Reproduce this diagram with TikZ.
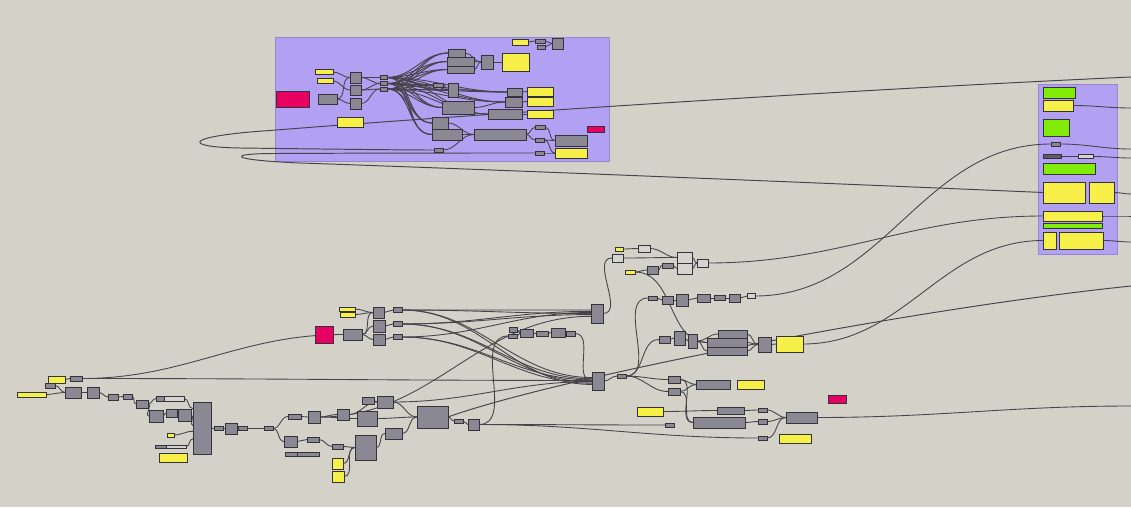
\documentclass[tikz,border=0pt]{standalone}
\usepackage{xcolor}
\usepackage{tikz}
\usetikzlibrary{backgrounds}

\definecolor{canvas}{RGB}{212,209,201}
\definecolor{grouplilac}{RGB}{178,160,242}
\definecolor{compgray}{RGB}{138,136,146}
\definecolor{compedge}{RGB}{52,50,58}
\definecolor{paramlight}{RGB}{214,212,208}
\definecolor{panelyellow}{RGB}{246,240,72}
\definecolor{togglegreen}{RGB}{128,236,8}
\definecolor{swatchpink}{RGB}{232,0,98}
\definecolor{wiregray}{RGB}{70,68,74}

\begin{document}
\begin{tikzpicture}[
    x=0.02cm,
    y=-0.02cm,
    wh/.style 2 args={
        minimum width=#1*0.02cm,
        minimum height=#2*0.02cm
    },
    comp/.style={
        rectangle,
        draw=compedge,
        line width=0.5pt,
        fill=compgray,
        inner sep=0pt,
        outer sep=0pt
    },
    light/.style={comp, fill=paramlight},
    panel/.style={comp, fill=panelyellow},
    toggle/.style={comp, fill=togglegreen},
    swatch/.style={comp, fill=swatchpink},
    group/.style={
        rectangle,
        fill=grouplilac,
        draw=grouplilac!85!black,
        line width=0.4pt,
        inner sep=0pt
    },
    wire/.style={
        draw=wiregray,
        line width=0.5pt,
        out=0,
        in=180
    },
    longwire/.style={
        draw=wiregray,
        line width=0.55pt
    }
]
    \useasboundingbox (0,0) rectangle (1131,507);

    \begin{scope}[on background layer]
        \fill[canvas] (0,0) rectangle (1131,507);
        \node[group, wh={334}{124}] (grpA) at (442,99) {};
        \node[group, wh={79}{170}] (grpB) at (1077.5,169) {};
    \end{scope}

    % group A
    \node[swatch, wh={33}{16}] (aPink) at (292.5,99) {};
    \node[panel, wh={18}{5}] (aY1) at (324,72) {};
    \node[panel, wh={16}{5}] (aY2) at (325,81) {};
    \node[comp, wh={19}{10}] (aG1) at (327.5,99) {};
    \node[comp, wh={11}{11}] (aC1) at (355.5,77.5) {};
    \node[comp, wh={11}{10}] (aC2) at (355.5,90) {};
    \node[comp, wh={11}{11}] (aC3) at (355.5,103.5) {};
    \node[comp, wh={7}{4}] (aS1) at (383.5,77.5) {};
    \node[comp, wh={7}{4}] (aS2) at (383.5,83.5) {};
    \node[comp, wh={7}{4}] (aS3) at (383.5,89) {};
    \node[comp, wh={17}{8}] (aT1) at (456.5,53) {};
    \node[comp, wh={27}{9}] (aT2) at (460.5,61.5) {};
    \node[comp, wh={27}{7}] (aT3) at (460.5,69.5) {};
    \node[comp, wh={12}{14}] (aT4) at (487,62) {};
    \node[panel, wh={27}{18}] (aYbig) at (515.5,62) {};
    \node[panel, wh={16}{6}] (aYtop) at (520,42) {};
    \node[comp, wh={10}{4}] (aSm1) at (540,41) {};
    \node[comp, wh={8}{4}] (aSm2) at (541,47) {};
    \node[comp, wh={11}{11}] (aSq) at (557.5,43.5) {};
    \node[comp, wh={10}{4}] (aM1) at (438,85) {};
    \node[comp, wh={10}{14}] (aM2) at (453,90) {};
    \node[comp, wh={32}{13}] (aM3) at (458,107.5) {};
    \node[comp, wh={15}{8}] (aR1) at (514.5,92) {};
    \node[comp, wh={17}{10}] (aR2) at (513.5,102) {};
    \node[comp, wh={34}{10}] (aR3) at (505,114) {};
    \node[panel, wh={26}{9}] (aY3) at (540,91.5) {};
    \node[panel, wh={26}{9}] (aY4) at (540,101.5) {};
    \node[panel, wh={26}{8}] (aY5) at (540,114) {};
    \node[panel, wh={26}{10}] (aY6) at (350,122) {};
    \node[comp, wh={16}{12}] (aB1) at (440,123) {};
    \node[comp, wh={30}{11}] (aB2) at (447,134.5) {};
    \node[comp, wh={52}{11}] (aB3) at (500,134.5) {};
    \node[comp, wh={10}{4}] (aN1) at (540,127.5) {};
    \node[comp, wh={9}{4}] (aN2) at (539.5,140) {};
    \node[comp, wh={9}{4}] (aN3) at (539.5,153) {};
    \node[comp, wh={9}{4}] (aN4) at (438.5,150) {};
    \node[comp, wh={32}{11}] (aG2) at (571,140.5) {};
    \node[panel, wh={32}{10}] (aY7) at (571,153) {};
    \node[swatch, wh={17}{6}] (aPinkS) at (595.5,129) {};

    % group B
    \node[toggle, wh={32}{11}] (bG1) at (1059,92.5) {};
    \node[panel, wh={30}{11}] (bY1) at (1058,105.5) {};
    \node[toggle, wh={26}{17}] (bG2) at (1056,127.5) {};
    \node[comp, wh={9}{4}] (bS1) at (1055.5,144) {};
    \node[comp, fill=compedge!80, wh={18}{4}] (bSlA) at (1052,156.5) {};
    \node[light, wh={15}{4}] (bSlB) at (1085.5,156.5) {};
    \node[toggle, wh={52}{11}] (bG3) at (1069,168.5) {};
    \node[panel, wh={42}{21}] (bY2) at (1064,192.5) {};
    \node[panel, wh={25}{21}] (bY3) at (1101.5,192.5) {};
    \node[panel, wh={59}{10}] (bY4) at (1072.5,216) {};
    \node[toggle, wh={59}{5}] (bG4) at (1072.5,225.5) {};
    \node[panel, wh={13}{17}] (bY5) at (1049.5,240.5) {};
    \node[panel, wh={44}{17}] (bY6) at (1081,240.5) {};

    % upper right cluster
    \node[panel, wh={8}{4}] (cY1) at (619,249) {};
    \node[light, wh={12}{7}] (cL1) at (644,248.5) {};
    \node[light, wh={11}{8}] (cL2) at (617.5,258) {};
    \node[light, wh={15}{11}] (cL3) at (684.5,257.5) {};
    \node[light, wh={15}{11}] (cL4) at (684.5,268.5) {};
    \node[light, wh={11}{8}] (cL5) at (702.5,263) {};
    \node[panel, wh={10}{4}] (cY2) at (630,272) {};
    \node[comp, wh={11}{8}] (cG1) at (652.5,270) {};
    \node[comp, wh={11}{5}] (cG2) at (667.5,265.5) {};
    \node[comp, wh={9}{4}] (cR1) at (652.5,298) {};
    \node[comp, wh={11}{8}] (cR2) at (667.5,300) {};
    \node[comp, wh={12}{12}] (cR3) at (682,300) {};
    \node[comp, wh={13}{8}] (cR4) at (703.5,298) {};
    \node[comp, wh={11}{5}] (cR5) at (719.5,298) {};
    \node[comp, wh={11}{8}] (cR6) at (734.5,298) {};
    \node[light, wh={8}{5}] (cR7) at (751,296) {};
    \node[comp, wh={11}{7}] (cH1) at (664.5,339.5) {};
    \node[comp, wh={11}{14}] (cH2) at (679.5,338) {};
    \node[comp, wh={9}{14}] (cH3) at (692.5,341) {};
    \node[comp, wh={29}{8}] (cK1) at (732.5,334) {};
    \node[comp, wh={40}{9}] (cK2) at (727,342.5) {};
    \node[comp, wh={40}{8}] (cK3) at (727,351) {};
    \node[comp, wh={13}{15}] (cH4) at (764.5,344.5) {};
    \node[panel, wh={27}{16}] (cY3) at (789.5,344) {};

    % middle cluster
    \node[panel, wh={16}{4}] (mY1) at (347,309) {};
    \node[panel, wh={15}{5}] (mY2) at (347.5,314.5) {};
    \node[swatch, wh={18}{17}] (mPink) at (324,334.5) {};
    \node[comp, wh={19}{11}] (mG1) at (352.5,334.5) {};
    \node[comp, wh={11}{11}] (mC1) at (378.5,312.5) {};
    \node[comp, wh={12}{12}] (mC2) at (379,326) {};
    \node[comp, wh={12}{11}] (mC3) at (379,339.5) {};
    \node[comp, wh={9}{5}] (mS1) at (397.5,310) {};
    \node[comp, wh={9}{5}] (mS2) at (397.5,324) {};
    \node[comp, wh={9}{5}] (mS3) at (397.5,337) {};
    \node[comp, wh={12}{19}] (mBoxU) at (597,313.5) {};
    \node[comp, wh={12}{18}] (mBoxL) at (598,381) {};
    \node[comp, wh={8}{5}] (mT1) at (513.5,330) {};
    \node[comp, wh={9}{4}] (mT2) at (512.5,336) {};
    \node[comp, wh={13}{8}] (mT3) at (526.5,333) {};
    \node[comp, wh={12}{5}] (mT4) at (542,333.5) {};
    \node[comp, wh={14}{9}] (mT5) at (558,332.5) {};
    \node[comp, wh={9}{5}] (mT6) at (570.5,333.5) {};
    \node[comp, wh={9}{4}] (mQ) at (621.5,376) {};

    % lower right cluster
    \node[comp, wh={12}{7}] (rG1) at (674,379.5) {};
    \node[comp, wh={12}{7}] (rG2) at (674,391.5) {};
    \node[comp, wh={34}{9}] (rG3) at (713,384.5) {};
    \node[panel, wh={27}{9}] (rY1) at (750.5,384.5) {};
    \node[swatch, wh={18}{8}] (rPink) at (837,399) {};
    \node[panel, wh={26}{9}] (rY2) at (650,411.5) {};
    \node[comp, wh={27}{7}] (rG4) at (730.5,410.5) {};
    \node[comp, wh={9}{4}] (rN1) at (762.5,410) {};
    \node[comp, wh={52}{11}] (rG5) at (719,422.5) {};
    \node[comp, wh={9}{5}] (rN2) at (762.5,421.5) {};
    \node[comp, wh={9}{4}] (rN3) at (669.5,425) {};
    \node[comp, wh={31}{11}] (rG6) at (801.5,417.5) {};
    \node[comp, wh={9}{4}] (rN4) at (762.5,438) {};
    \node[panel, wh={32}{9}] (rY3) at (795,438.5) {};

    % lower left cluster
    \node[panel, wh={17}{7}] (lY1) at (56.5,379.5) {};
    \node[comp, wh={12}{5}] (lS1) at (76,378.5) {};
    \node[comp, wh={10}{5}] (lS2) at (50,385.5) {};
    \node[panel, wh={29}{5}] (lY2) at (31.5,394.5) {};
    \node[comp, wh={16}{11}] (lG1) at (73,392.5) {};
    \node[comp, wh={12}{11}] (lG2) at (93,392.5) {};
    \node[comp, wh={10}{6}] (lS3) at (113,397) {};
    \node[comp, wh={9}{5}] (lS4) at (127.5,396.5) {};
    \node[comp, wh={12}{8}] (lG3) at (142,404) {};
    \node[comp, wh={8}{5}] (lBarA) at (160,398.5) {};
    \node[light, wh={20}{5}] (lBarB) at (174,398.5) {};
    \node[comp, wh={14}{12}] (lG4) at (156,416) {};
    \node[comp, wh={11}{8}] (lG5) at (171.5,413) {};
    \node[comp, wh={13}{12}] (lG6) at (184.5,415) {};
    \node[comp, wh={18}{52}] (lTall) at (202,428) {};
    \node[panel, wh={7}{4}] (lY3) at (170.5,435) {};
    \node[comp, wh={11}{3}] (lBarC) at (160.5,446.5) {};
    \node[light, wh={20}{3}] (lBarD) at (176,446.5) {};
    \node[panel, wh={28}{9}] (lY4) at (173,457.5) {};
    \node[comp, wh={9}{4}] (lS5) at (218.5,428.5) {};
    \node[comp, wh={12}{11}] (lG7) at (231,428.5) {};
    \node[comp, wh={9}{4}] (lS6) at (242.5,428.5) {};
    \node[comp, wh={9}{4}] (lS7) at (268.5,428.5) {};

    % lower middle cluster
    \node[comp, wh={13}{5}] (dS1) at (294.5,416.5) {};
    \node[comp, wh={12}{12}] (dG1) at (314,417) {};
    \node[comp, wh={12}{11}] (dG2) at (343,414.5) {};
    \node[comp, wh={12}{7}] (dG3) at (368,400.5) {};
    \node[comp, wh={16}{12}] (dG4) at (385,402) {};
    \node[comp, wh={20}{15}] (dG5) at (367,418.5) {};
    \node[comp, wh={31}{22}] (dBig) at (432.5,417) {};
    \node[comp, wh={9}{4}] (dS2) at (458.5,421) {};
    \node[comp, wh={11}{11}] (dG6) at (473.5,424.5) {};
    \node[comp, wh={17}{11}] (dG7) at (393.5,433.5) {};
    \node[comp, wh={13}{11}] (dG8) at (290.5,441.5) {};
    \node[comp, wh={12}{5}] (dS3) at (313,439.5) {};
    \node[comp, wh={11}{5}] (dS4) at (337.5,446.5) {};
    \node[comp, wh={12}{4}] (dBarA) at (291,454) {};
    \node[comp, wh={22}{4}] (dBarB) at (308,454) {};
    \node[comp, wh={21}{25}] (dG9) at (365.5,447.5) {};
    \node[panel, wh={11}{11}] (dY1) at (337.5,463.5) {};
    \node[panel, wh={12}{11}] (dY2) at (338,476.5) {};

    \coordinate (offA) at (1131,77);
    \coordinate (offB1) at (1131,108);
    \coordinate (offB2) at (1131,149);
    \coordinate (offB3) at (1131,158);
    \coordinate (offB4) at (1131,194);
    \coordinate (offB5) at (1131,216);
    \coordinate (offB6) at (1131,242);
    \coordinate (offC) at (1131,286);
    \coordinate (offD) at (1131,406);

    \begin{scope}[on background layer]
        % group A wiring
        \foreach \s/\t in {aY1/aC1, aY2/aC2, aG1/aC1, aG1/aC3, aC1/aS1, aC2/aS2,
            aC3/aS3, aC1/aS2, aC2/aS3, aT1/aT4, aT2/aT4, aT3/aT4, aT4/aYbig,
            aYtop/aSm1, aSm1/aSq, aSm2/aSq, aM1/aM2, aM2/aR1, aM3/aR2,
            aR1/aY3, aR2/aY4, aR3/aY5, aB1/aB3, aB2/aB3, aB3/aN1, aB3/aN2,
            aN1/aG2, aN2/aG2, aN2/aY7, aN3/aY7, aN4/aB3}
            \draw[wire] (\s.east) to (\t.west);
        \foreach \s in {aS1,aS2,aS3}
            \foreach \t in {aT1,aT2,aT3,aM1,aM2,aM3,aR1,aR2,aR3,aB1,aB2}
                \draw[wire] (\s.east) to (\t.west);

        % group B outputs
        \draw[longwire] (bSlA.east) -- (bSlB.west);
        \foreach \s/\t in {bY1/offB1, bS1/offB2, bSlB/offB3, bY3/offB4,
            bY4/offB5, bY6/offB6}
            \draw[wire] (\s.east) to (\t);

        % backward loops
        \draw[longwire] (offA) .. controls (800,92) and (400,120) .. (270,130.5)
            .. controls (185,136) and (180,147) .. (240,148)
            .. controls (320,149) and (400,150) .. (aN4.west);
        \draw[longwire] (bY2.west) .. controls (800,182) and (450,168) .. (300,163)
            .. controls (228,160) and (225,153.5) .. (275,153.5)
            .. controls (380,153) and (470,153) .. (aN3.west);

        % lower left
        \foreach \s/\t in {lY1/lS1, lY2/lG1, lS2/lG1, lG1/lG2, lG2/lS3, lS3/lS4,
            lS4/lG3, lG3/lBarA, lG3/lG4, lG4/lG5, lG5/lG6, lTall/lS5, lS5/lG7,
            lG7/lS6, lS6/lS7, lS7/dS1, lS7/dG8, dS1/dG1, dG1/dG2, dG1/dG5,
            dG2/dG4, dG3/dG4, dG4/dBig, dG5/dBig, dG7/dBig, dG8/dS3, dS3/dS4,
            dS4/dG9, dY1/dG9, dY2/dG9, dG9/dG7, dBig/dS2, dS2/dG6}
            \draw[wire] (\s.east) to (\t.west);
        \draw[wire] (lBarB.east) to (lTall.115);
        \draw[wire] (lG6.east) to (lTall.165);
        \draw[wire] (lY3.east) to (lTall.200);
        \draw[wire] (lBarD.east) to (lTall.230);

        % middle
        \foreach \s/\t in {mPink/mG1, mY1/mC1, mY2/mC1, mG1/mC1, mG1/mC2,
            mG1/mC3, mC1/mS1, mC2/mS2, mC3/mS3, mT1/mT3, mT2/mT3, mT3/mT4,
            mT4/mT5, mT5/mT6, mBoxL/mQ, mT6/mBoxL}
            \draw[wire] (\s.east) to (\t.west);
        \foreach \s/\a in {mS1/150, mS2/160, mS3/170, mS1/180, mS2/190}
            \draw[wire] (\s.east) to (mBoxU.\a);
        \foreach \s/\a in {mS1/150, mS2/160, mS3/170, mS2/190, mS3/200, mS1/210}
            \draw[wire] (\s.east) to (mBoxL.\a);
        \draw[wire] (lS1.east) to (mG1.west);
        \draw[wire] (lS1.east) to (mBoxL.175);
        \draw[wire] (dG1.east) to (mBoxU.205);
        \draw[wire] (dG4.east) to (mBoxL.185);
        \draw[wire] (dG6.east) to (mT2.west);
        \draw[wire] (dG6.east) to (rN3.west);
        \draw[wire] (dG6.east) to (rN4.west);
        \draw[longwire] (dBig.east) .. controls (550,380) and (900,310) .. (offC);

        % upper right
        \foreach \s/\t in {cY1/cL1, cL1/cL3, cL2/cL3, cL3/cL5, cL4/cL5,
            cY2/cG1, cG1/cG2, cG2/cL4, cR1/cR2, cR2/cR3, cR3/cR4, cR4/cR5,
            cR5/cR6, cR6/cR7, cH1/cH2, cH2/cH3, cH3/cK1, cH3/cK2, cH3/cK3,
            cK1/cH4, cK2/cH4, cK3/cH4, cH4/cY3, mBoxU/cL2, cY2/cK2,
            mQ/cR1, mQ/cH1, cL5/bY4, cR7/bS1, cY3/bY5}
            \draw[wire] (\s.east) to (\t.west);

        % lower right
        \foreach \s/\t in {mQ/rG1, mQ/rG2, rG1/rG3, rG2/rG3, rG1/rG5, rG2/rG5,
            rY2/rG4, rG4/rN1, rG5/rN2, rN1/rG6, rN2/rG6, rN4/rG6}
            \draw[wire] (\s.east) to (\t.west);
        \draw[wire] (rG6.east) to (offD);
    \end{scope}
\end{tikzpicture}
\end{document}
